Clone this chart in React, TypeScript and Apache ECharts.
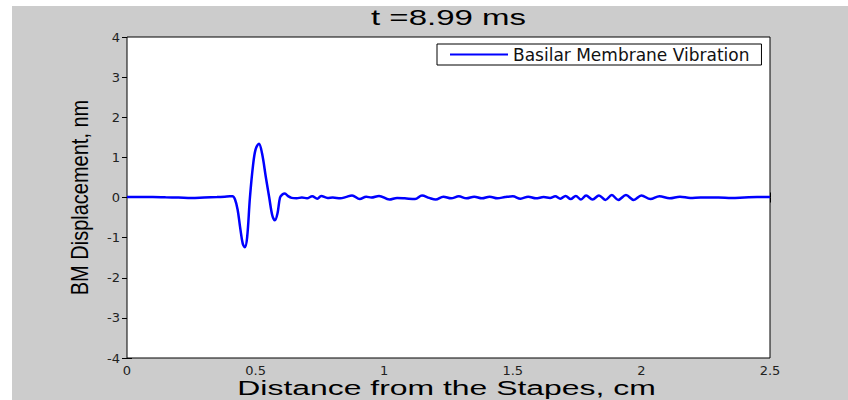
import React, { useEffect, useRef } from "react";
import * as echarts from "echarts";

// Basilar membrane displacement (nm) along the cochlea (cm from the stapes)
const positionCm: number[] = [
  0, 0.05, 0.1, 0.15, 0.2, 0.25, 0.3, 0.35, 0.38, 0.4,
  0.41, 0.42, 0.43, 0.44, 0.45, 0.458, 0.467, 0.478, 0.49, 0.5,
  0.513, 0.525, 0.54, 0.553, 0.565, 0.575, 0.585, 0.595, 0.605, 0.614,
  0.625, 0.64, 0.66, 0.68, 0.7, 0.72, 0.74, 0.755, 0.78, 0.8,
  0.83, 0.85, 0.875, 0.905, 0.93, 0.95, 0.98, 1.02, 1.05, 1.08,
  1.12, 1.147, 1.175, 1.2, 1.23, 1.26, 1.29, 1.32, 1.35, 1.38,
  1.41, 1.44, 1.47, 1.5, 1.53, 1.56, 1.59, 1.62, 1.645, 1.665,
  1.685, 1.705, 1.725, 1.745, 1.765, 1.785, 1.81, 1.835, 1.86, 1.885,
  1.91, 1.94, 1.97, 2.0, 2.035, 2.07, 2.11, 2.15, 2.19, 2.23,
  2.3, 2.35, 2.4, 2.45, 2.5,
];

const displacementNm: number[] = [
  0.01, 0.01, 0.01, 0.005, 0.0, -0.01, 0.0, 0.01, 0.02, 0.03,
  0.03, -0.05, -0.3, -0.75, -1.15, -1.24, -1.0, 0.0, 0.8, 1.2,
  1.34, 1.1, 0.5, 0.0, -0.45, -0.57, -0.4, 0.0, 0.08, 0.1,
  0.04, -0.01, -0.02, 0.0, -0.02, 0.03, -0.03, 0.04, -0.01, 0.0,
  -0.02, 0.01, 0.05, -0.04, 0.02, 0.0, 0.04, -0.05, -0.01, -0.02,
  -0.04, 0.05, -0.01, -0.05, 0.02, -0.02, 0.03, -0.02, 0.02, -0.02,
  0.02, -0.02, 0.01, 0.03, -0.03, 0.02, -0.02, 0.01, -0.01, 0.03,
  -0.03, 0.04, -0.04, 0.04, -0.05, 0.05, -0.05, 0.05, -0.06, 0.06,
  -0.06, 0.06, -0.06, 0.05, -0.04, 0.03, -0.02, 0.02, -0.01, 0.0,
  0.0, -0.01, 0.0, 0.01, 0.01,
];

const xTicks = { min: 0, max: 2.5, interval: 0.5 };
const yTicks = { min: -4, max: 4, interval: 1 };

const titleText = "t =8.99 ms";
const xAxisTitle = "Distance from the Stapes, cm";
const yAxisTitle = "BM Displacement, nm";
const seriesName = "Basilar Membrane Vibration";

const W = 848;
const H = 400;
const GRID = { left: 127, top: 37, right: 78, bottom: 42 };
const FIG_GRAY = "#cccccc";
const TICK_FONT = "DejaVu Sans, Liberation Sans, Arial, sans-serif";
const LABEL_FONT = "Liberation Sans, Arial, Helvetica, sans-serif";

export default function App() {
  const ref = useRef<HTMLDivElement>(null);

  useEffect(() => {
    if (!ref.current) return;
    const chart = echarts.init(ref.current, undefined, { renderer: "svg" });

    const data = positionCm.map((x, i) => [x, displacementNm[i]]);
    const plotCenterX = GRID.left + (W - GRID.left - GRID.right) / 2;
    const plotCenterY = GRID.top + (H - GRID.top - GRID.bottom) / 2;

    const tickCommon = {
      show: true,
      inside: true,
      length: 5,
      lineStyle: { color: "#000", width: 1 },
    };

    chart.setOption({
      animation: false,
      backgroundColor: "#ffffff",
      grid: {
        ...GRID,
        show: true,
        backgroundColor: "#ffffff",
        borderColor: "#000",
        borderWidth: 1,
        z: 1,
      },
      graphic: [
        {
          type: "rect",
          z: -10,
          silent: true,
          shape: { x: 12, y: 6, width: W - 12, height: H - 6 },
          style: { fill: FIG_GRAY },
        },
        {
          type: "text",
          x: plotCenterX,
          y: 18,
          scaleX: 1.5,
          style: {
            text: titleText,
            font: `22px ${LABEL_FONT}`,
            fill: "#000",
            textAlign: "center",
            textVerticalAlign: "middle",
          },
        },
        {
          type: "text",
          x: plotCenterX - 2,
          y: 388,
          scaleX: 1.52,
          style: {
            text: xAxisTitle,
            font: `21px ${LABEL_FONT}`,
            fill: "#000",
            textAlign: "center",
            textVerticalAlign: "middle",
          },
        },
        {
          type: "text",
          x: 80,
          y: plotCenterY,
          rotation: Math.PI / 2,
          scaleY: 1.2,
          style: {
            text: yAxisTitle,
            font: `20px ${LABEL_FONT}`,
            fill: "#000",
            textAlign: "center",
            textVerticalAlign: "middle",
          },
        },
      ],
      legend: {
        left: 437,
        top: 44,
        orient: "horizontal",
        padding: [2, 12, 2, 13],
        icon: "rect",
        itemWidth: 58,
        itemHeight: 2,
        itemGap: 8,
        backgroundColor: "#ffffff",
        borderColor: "#000",
        borderWidth: 1,
        borderRadius: 0,
        textStyle: {
          fontFamily: TICK_FONT,
          fontSize: 17,
          lineHeight: 17,
          color: "#111",
        },
        data: [{ name: seriesName, itemStyle: { color: "#0000ff" } }],
      },
      xAxis: [
        {
          type: "value",
          position: "bottom",
          min: xTicks.min,
          max: xTicks.max,
          interval: xTicks.interval,
          axisLine: { show: false },
          axisTick: tickCommon,
          splitLine: { show: false },
          axisLabel: {
            margin: 6,
            fontFamily: TICK_FONT,
            fontSize: 13,
            color: "#222",
          },
        },
        {
          type: "value",
          position: "top",
          min: xTicks.min,
          max: xTicks.max,
          interval: xTicks.interval,
          axisLine: { show: false },
          axisTick: tickCommon,
          splitLine: { show: false },
          axisLabel: { show: false },
        },
      ],
      yAxis: [
        {
          type: "value",
          position: "left",
          min: yTicks.min,
          max: yTicks.max,
          interval: yTicks.interval,
          axisLine: { show: false },
          axisTick: tickCommon,
          splitLine: { show: false },
          axisLabel: {
            margin: 7,
            fontFamily: TICK_FONT,
            fontSize: 13,
            color: "#222",
          },
        },
        {
          type: "value",
          position: "right",
          min: yTicks.min,
          max: yTicks.max,
          interval: yTicks.interval,
          axisLine: { show: false },
          axisTick: tickCommon,
          splitLine: { show: false },
          axisLabel: { show: false },
        },
      ],
      series: [
        {
          name: seriesName,
          type: "line",
          xAxisIndex: 0,
          yAxisIndex: 0,
          data,
          symbol: "none",
          smooth: 0.35,
          lineStyle: { color: "#0000ff", width: 2.5 },
          itemStyle: { color: "#0000ff" },
          z: 3,
        },
      ],
    });

    return () => chart.dispose();
  }, []);

  return (
    <div
      ref={ref}
      style={{ position: "absolute", left: 0, top: 0, width: W, height: H }}
    />
  );
}
